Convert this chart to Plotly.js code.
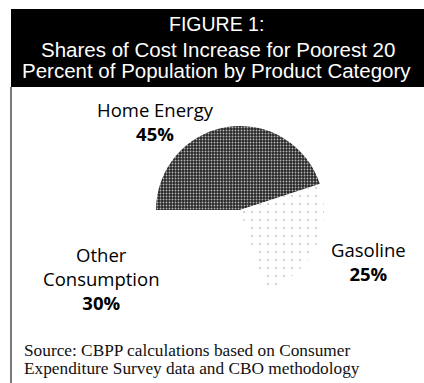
<!DOCTYPE html>
<html><head><meta charset="utf-8">
<script src="https://cdn.plot.ly/plotly-3.0.1.min.js"></script>
<style>html,body{margin:0;padding:0;background:#fff;}#chart{width:424px;height:383px;}</style>
</head><body><div id="chart"></div>
<script>
var figureLabel = "FIGURE 1:";
var titleLines = ["Shares of Cost Increase for Poorest 20", "Percent of Population by Product Category"];
var categories = ["Home Energy", "Gasoline", "Other Consumption"];
var categoryLines = [["Home Energy"], ["Gasoline"], ["Other", "Consumption"]];
var shares = [45, 25, 30];
var sourceLines = ["Source: CBPP calculations based on Consumer", "Expenditure Survey data and CBO methodology"];

var W = 424, H = 383;
function px(x){ return x / W; }
function py(y){ return 1 - y / H; }

var cx = 240, cy = 210, r = 84;

var trace = {
  type: "pie",
  labels: categories,
  values: shares,
  sort: false,
  direction: "clockwise",
  rotation: -90,
  textinfo: "none",
  hoverinfo: "label+percent",
  showlegend: false,
  domain: { x: [px(cx - r), px(cx + r)], y: [py(cy + r), py(cy - r)] },
  marker: {
    colors: ["#333333", "#ffffff", "#ffffff"],
    line: { width: 0 },
    pattern: {
      shape: [".", ".", ""],
      fgcolor: ["#b8b8b8", "#c4c4c4", "#ffffff"],
      bgcolor: ["#262626", "#ffffff", "#ffffff"],
      size: [3, 8, 8],
      solidity: [0.3, 0.05, 0.1]
    }
  }
};

// label layout: x centre and vertical centre of each (multi-line) label block
var labelPos = [
  { x: 155, y: 121 },
  { x: 368, y: 261 },
  { x: 101, y: 278 }
];
var labelSize = 18.5;

var annotations = [];
function addText(txt, x, y, size, family, color, anchor) {
  annotations.push({
    xref: "paper", yref: "paper", x: px(x), y: py(y),
    xanchor: anchor || "center", yanchor: "middle", showarrow: false,
    text: txt, font: { family: family, size: size, color: color }
  });
}
var sans = "Liberation Sans, Arial, sans-serif";
var labelFont = "Open Sans, Noto Sans, sans-serif";
var serif = "Liberation Serif, Times New Roman, serif";

addText(figureLabel, 216, 24, 19.5, sans, "#fff");
addText(titleLines[0], 218, 50, 20.5, sans, "#fff");
addText(titleLines[1], 216, 70, 20.5, sans, "#fff");

for (var i = 0; i < categories.length; i++) {
  var p = labelPos[i];
  addText(categoryLines[i].join("<br>") + "<br><b>" + shares[i] + "%</b>", p.x, p.y, labelSize, labelFont, "#000");
}

addText(sourceLines[0], 22, 350, 17.3, serif, "#111", "left");
addText(sourceLines[1], 22, 368, 17.3, serif, "#111", "left");

var layout = {
  width: W, height: H,
  margin: { l: 0, r: 0, t: 0, b: 0 },
  paper_bgcolor: "#fff",
  shapes: [
    { type: "rect", xref: "paper", yref: "paper", x0: px(11), x1: 1, y0: py(87), y1: py(9), fillcolor: "#000", line: { width: 0 }, layer: "below" },
    { type: "line", xref: "paper", yref: "paper", x0: px(11), x1: px(11), y0: 0, y1: py(87), line: { color: "#222", width: 1.2 } }
  ],
  annotations: annotations
};

Plotly.newPlot("chart", [trace], layout, { displayModeBar: false, staticPlot: true });
</script></body></html>
